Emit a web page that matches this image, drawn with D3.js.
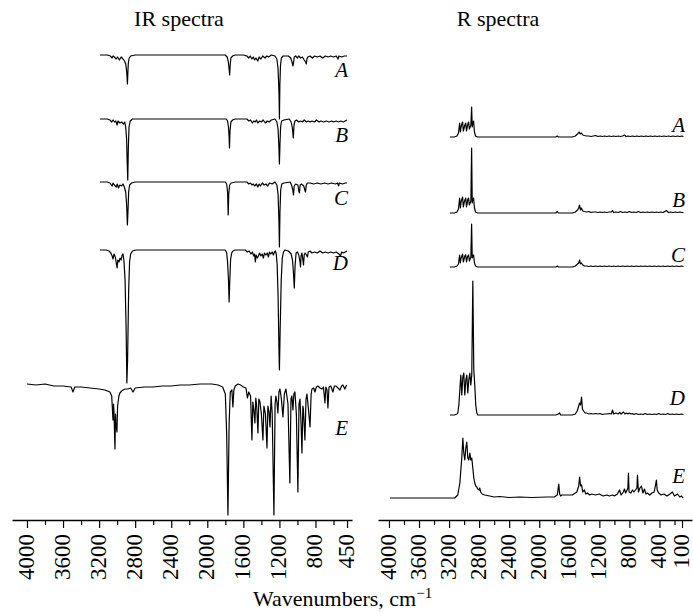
<!DOCTYPE html>
<html>
<head>
<meta charset="utf-8">
<script src="https://cdn.jsdelivr.net/npm/d3@7"></script>
<style>
  body { margin: 0; background: #fff; }
</style>
</head>
<body>
<div id="chart"></div>
<script>
  var w = 693,
      h = 612,
      axisY = 520,
      serif = "'Liberation Serif', 'DejaVu Serif', serif";

  var names = ["A", "B", "C", "D", "E"];

  // tick values, cm-1
  var irMajor = [4000, 3600, 3200, 2800, 2400, 2000, 1600, 1200, 800, 450];
  var irMinor = [3800, 3400, 3000, 2600, 2200, 1800, 1400, 1000, 600];
  var ramMajor = [4000, 3600, 3200, 2800, 2400, 2000, 1600, 1200, 800, 400, 100];
  var ramMinor = [3800, 3400, 3000, 2600, 2200, 1800, 1400, 1000, 600, 200];

  // vertical stacking offset of each trace (A..E)
  var irOffsets = [465, 401, 338, 270, 136];
  var ramOffsets = [383, 307, 253, 105, 22];

  // IR spectra: [wavenumber, change from baseline]
  var irA = [
    [3190,0],[3110,0],[3075,-1],[3056,-3],[3045,-1],[3030,-2],[3011,-4],[2995,-2],[2975,-5],[2955,-2],
    [2935,-4],[2918,-6],[2905,-9],[2897,-14],[2890,-22],[2886,-29],[2881,-18],[2876,-8],[2866,-3],[2850,-1],
    [2800,0],[1800,0],[1780,-2],[1768,-6],[1758,-14],[1752,-20],[1746,-10],[1738,-3],[1720,-1],[1690,0],
    [1600,0],[1560,-1],[1540,-3],[1525,-1],[1505,-4],[1490,-2],[1475,-5],[1460,-3],[1440,-6],[1425,-2],
    [1405,-4],[1385,-1],[1360,-3],[1340,-1],[1320,-2],[1290,0],[1250,-1],[1228,-4],[1215,-14],[1204,-40],
    [1200,-64],[1195,-30],[1188,-10],[1178,-3],[1160,-1],[1100,-1],[1075,-3],[1060,-7],[1050,-11],[1042,-7],
    [1035,-2],[1020,-1],[1000,-3],[985,-1],[965,-3],[945,-2],[925,-5],[910,-7],[902,-9],[895,-4],
    [885,-2],[860,-1],[835,-3],[810,-1],[780,-2],[750,-1],[720,-3],[690,-1],[660,-2],[630,-1],
    [600,-2],[570,-1],[550,-4],[540,-1],[510,-2],[480,-1],[450,-1]
  ];
  var irB = [
    [3190,0],[3110,0],[3080,-1],[3060,-3],[3045,-1],[3030,-3],[3015,-2],[3000,-6],[2990,-2],[2970,-4],
    [2950,-3],[2930,-5],[2915,-3],[2905,-8],[2895,-20],[2888,-45],[2882,-61],[2876,-30],[2868,-8],[2855,-2],
    [2830,0],[1790,0],[1775,-2],[1765,-8],[1758,-18],[1754,-29],[1748,-12],[1738,-3],[1720,-1],[1690,0],
    [1560,0],[1540,-2],[1520,-1],[1500,-4],[1485,-2],[1470,-3],[1455,-1],[1440,-4],[1420,-2],[1400,-3],
    [1380,-1],[1355,-4],[1335,-2],[1315,-3],[1290,-1],[1250,0],[1228,-3],[1215,-10],[1205,-30],[1200,-45],
    [1194,-25],[1187,-8],[1176,-2],[1150,-1],[1090,0],[1070,-3],[1056,-9],[1046,-19],[1038,-6],[1028,-2],
    [1010,-1],[985,-3],[965,-2],[945,-3],[925,-1],[900,-3],[880,-2],[860,-3],[840,-2],[810,-3],
    [790,-1],[760,-3],[740,-2],[710,-3],[680,-2],[650,-3],[620,-2],[600,-3],[570,-2],[545,-3],
    [520,-2],[490,-3],[470,-2],[450,-1]
  ];
  var irC = [
    [3190,0],[3110,0],[3080,-1],[3055,-4],[3045,-1],[3030,-3],[3010,-5],[2998,-2],[2985,-6],[2970,-3],
    [2950,-4],[2935,-2],[2920,-5],[2905,-10],[2895,-22],[2886,-43],[2880,-30],[2872,-10],[2862,-3],[2840,-1],
    [2800,0],[1800,0],[1785,-2],[1775,-10],[1768,-33],[1762,-12],[1752,-3],[1735,-1],[1690,0],[1560,0],
    [1540,-2],[1520,-1],[1505,-3],[1490,-2],[1475,-4],[1455,-2],[1440,-5],[1425,-2],[1410,-4],[1390,-1],
    [1370,-3],[1350,-2],[1330,-4],[1310,-1],[1280,-2],[1250,0],[1228,-3],[1215,-12],[1205,-40],[1200,-65],
    [1194,-30],[1186,-8],[1174,-2],[1150,-1],[1080,0],[1062,-4],[1050,-9],[1044,-13],[1036,-4],[1020,-2],
    [995,-3],[985,-9],[978,-11],[970,-3],[955,-2],[930,-4],[918,-8],[911,-10],[902,-3],[890,-1],
    [860,-1],[820,-2],[780,-1],[740,-2],[700,-1],[660,-2],[620,-1],[580,-2],[555,-1],[544,-4],
    [535,-1],[500,-2],[470,-1],[450,-1]
  ];
  var irD = [
    [3190,0],[3120,0],[3090,-1],[3070,-3],[3055,-6],[3045,-9],[3035,-4],[3020,-7],[3008,-14],[3000,-18],
    [2993,-10],[2980,-12],[2967,-8],[2955,-10],[2944,-5],[2935,-4],[2925,-10],[2912,-30],[2900,-80],[2892,-133],
    [2884,-110],[2872,-40],[2862,-12],[2850,-4],[2830,-1],[2790,0],[1800,0],[1785,-3],[1775,-12],[1765,-30],
    [1758,-52],[1750,-30],[1742,-10],[1730,-3],[1715,-1],[1690,0],[1580,0],[1555,-2],[1535,-1],[1515,-4],
    [1500,-2],[1485,-6],[1475,-4],[1467,-12],[1458,-5],[1445,-8],[1433,-6],[1420,-3],[1405,-6],[1390,-4],
    [1378,-8],[1365,-3],[1350,-5],[1335,-3],[1322,-7],[1310,-2],[1295,-4],[1280,-2],[1267,-5],[1255,-2],
    [1245,-1],[1235,-4],[1225,-15],[1215,-45],[1205,-100],[1200,-120],[1192,-80],[1180,-30],[1168,-8],[1155,-2],
    [1140,0],[1100,-1],[1070,-4],[1055,-10],[1045,-22],[1035,-38],[1026,-15],[1015,-3],[1000,-2],[985,-5],
    [972,-12],[966,-17],[960,-6],[950,-3],[940,-10],[933,-15],[925,-5],[915,-3],[900,-5],[889,-7],
    [880,-2],[860,-1],[840,-3],[810,-2],[780,-3],[750,-1],[720,-3],[690,-2],[660,-3],[630,-2],
    [600,-3],[570,-2],[540,-4],[522,-6],[510,-2],[490,-3],[470,-2],[450,-1]
  ];
  var irE = [
    [4000,0],[3900,-1],[3800,0],[3700,-2],[3600,-2],[3510,-3],[3490,-8],[3470,-3],[3400,-3],[3300,-4],
    [3200,-5],[3135,-6],[3080,-8],[3060,-12],[3046,-36],[3040,-20],[3035,-28],[3024,-65],[3018,-30],[3013,-40],
    [3002,-48],[2995,-22],[2980,-12],[2969,-9],[2950,-7],[2935,-6],[2913,-5],[2880,-5],[2850,-4],[2824,-8],
    [2800,-4],[2700,-3],[2600,-3],[2500,-2],[2400,-2],[2300,-1],[2200,-1],[2081,0],[1950,0],[1880,-1],
    [1830,-3],[1800,-10],[1785,-50],[1771,-131],[1758,-40],[1745,-8],[1727,-6],[1716,-23],[1705,-6],[1690,-2],
    [1660,0],[1630,-1],[1600,-3],[1571,-4],[1555,-14],[1540,-8],[1520,-12],[1505,-56],[1495,-18],[1485,-25],
    [1472,-39],[1462,-14],[1452,-22],[1438,-49],[1428,-15],[1416,-18],[1400,-30],[1383,-56],[1372,-22],[1355,-30],
    [1338,-64],[1328,-22],[1315,-28],[1305,-43],[1292,-12],[1280,-30],[1261,-131],[1248,-20],[1239,-12],[1228,-18],
    [1217,-29],[1205,-8],[1194,-5],[1178,-15],[1161,-33],[1145,-10],[1128,-5],[1105,-20],[1084,-99],[1072,-15],
    [1062,-12],[1050,-26],[1040,-10],[1028,-8],[1012,-30],[995,-108],[983,-20],[972,-15],[960,-40],[950,-69],
    [940,-22],[934,-25],[917,-56],[905,-15],[895,-10],[878,-25],[861,-43],[848,-10],[839,-5],[820,-4],
    [806,-8],[790,-3],[773,-2],[750,-4],[728,-5],[712,-3],[695,-19],[685,-3],[672,-6],[662,-24],
    [650,-3],[630,-2],[607,-8],[590,-2],[573,-2],[550,-4],[529,-6],[510,-2],[496,-1],[474,-5],
    [460,-2],[452,-1]
  ];

  // Raman spectra: [wavenumber, intensity above baseline]
  var ramA = [
    [3190,0],[3130,0],[3095,1],[3075,4],[3060,14],[3050,5],[3040,10],[3030,13],[3020,15],[3010,6],
    [3000,9],[2990,12],[2978,14],[2968,6],[2958,10],[2950,13],[2940,15],[2930,8],[2920,10],[2910,12],
    [2900,30],[2892,10],[2884,14],[2874,16],[2862,5],[2848,1],[2820,0],[1780,0],[1760,1],[1745,0],
    [1560,0],[1520,1],[1490,3],[1470,5],[1455,3],[1440,4],[1420,2],[1400,1.5],[1370,1],[1340,1],
    [1310,0.5],[1280,1],[1250,1.5],[1220,0.5],[1190,1],[1160,0.5],[1130,1],[1100,0.5],[1070,1],[1040,0.5],
    [1010,1],[980,0.5],[950,1],[920,0.5],[890,1],[866,2],[845,0.5],[820,1],[790,0.5],[760,1],
    [730,0.5],[700,1],[670,0.5],[640,1],[610,0.5],[580,1],[550,0.5],[520,1],[490,0.5],[460,1],
    [430,0.5],[400,1],[370,0.5],[340,1],[310,0.5],[280,1],[250,0.5],[220,1],[190,0.5],[160,1],
    [130,0.5],[100,1],[80,0.5]
  ];
  var ramB = [
    [3190,0],[3130,0],[3095,1],[3075,4],[3060,15],[3050,5],[3040,11],[3030,14],[3020,16],[3010,6],
    [3000,10],[2990,13],[2978,15],[2968,6],[2958,10],[2950,14],[2940,15],[2930,8],[2920,10],[2910,12],
    [2900,65],[2892,10],[2884,14],[2874,15],[2862,5],[2848,1],[2820,0],[1780,0],[1760,1.5],[1745,0],
    [1560,0],[1520,1],[1490,3],[1475,5],[1463,8],[1452,3],[1440,5],[1420,2],[1400,1.5],[1370,1],
    [1340,1.5],[1310,0.5],[1280,1],[1250,1],[1220,0.5],[1190,1],[1160,0.5],[1130,1],[1100,0.5],[1070,1],
    [1040,1],[1025,2.5],[1010,0.5],[980,1],[950,0.5],[920,1.5],[890,0.5],[860,1],[830,0.5],[800,1.5],
    [770,0.5],[740,1],[710,0.5],[680,1.5],[650,0.5],[620,1],[590,0.5],[560,1],[530,0.5],[500,1],
    [470,0.5],[440,1],[410,0.5],[380,1],[350,0.5],[308,2.5],[280,0.5],[250,1],[220,0.5],[190,1],
    [160,0.5],[130,1],[100,0.5],[80,0.5]
  ];
  var ramC = [
    [3190,0],[3130,0],[3095,1],[3075,3],[3060,12],[3050,4],[3040,9],[3030,11],[3020,13],[3010,5],
    [3000,8],[2990,11],[2978,12],[2968,5],[2958,9],[2950,11],[2940,12],[2930,6],[2920,8],[2910,10],
    [2900,43],[2892,9],[2884,11],[2874,12],[2862,4],[2848,1],[2820,0],[1780,0],[1760,1],[1745,0],
    [1560,0],[1520,1],[1490,3],[1475,4],[1463,7],[1452,3],[1440,4],[1420,2],[1400,1],[1370,1],
    [1340,0.5],[1310,1],[1280,0.5],[1250,1],[1220,0.5],[1190,1],[1160,0.5],[1130,1],[1100,0.5],[1070,1],
    [1040,0.5],[1010,1],[980,0.5],[950,1],[920,0.5],[890,1],[860,0.5],[830,1],[800,0.5],[770,1],
    [740,0.5],[710,1],[680,0.5],[650,1],[620,0.5],[590,1],[560,0.5],[530,1],[500,0.5],[470,1],
    [440,0.5],[410,1],[380,0.5],[350,1],[320,0.5],[290,1],[260,0.5],[230,1],[200,0.5],[170,1],
    [140,0.5],[110,1],[80,0.5]
  ];
  var ramD = [
    [3190,0],[3130,0],[3095,1],[3084,2],[3070,10],[3057,25],[3044,40],[3031,20],[3017,38],[3004,42],
    [2991,20],[2977,35],[2964,40],[2951,22],[2938,35],[2924,42],[2911,30],[2898,40],[2884,134],[2871,45],
    [2858,30],[2845,10],[2831,2],[2818,0],[1780,0],[1745,1],[1729,2],[1715,0],[1560,0],[1520,1],
    [1495,4],[1475,9],[1463,12],[1450,10],[1437,18],[1425,6],[1410,4],[1390,2],[1370,2],[1340,1],
    [1310,1.5],[1280,1],[1250,1.5],[1220,1],[1190,1.5],[1160,0.5],[1130,1],[1100,1],[1070,1.5],[1040,1],
    [1025,5],[1010,1],[980,2],[950,1],[930,2.5],[910,1],[880,3],[860,1],[840,2],[820,1],
    [800,2],[780,1],[760,1.5],[740,0.5],[710,1.5],[680,0.5],[650,1],[620,0.5],[590,1.5],[560,0.5],
    [530,1],[500,0.5],[470,1],[440,0.5],[410,1.5],[380,0.5],[350,1],[320,0.5],[290,1.5],[260,0.5],
    [230,1],[200,0.5],[170,1],[140,0.5],[110,1],[80,0.5]
  ];
  var ramE = [
    [3987,0],[3700,0],[3400,0],[3124,0],[3084,3],[3057,15],[3031,40],[3017,60],[3004,45],[2991,38],
    [2977,50],[2964,56],[2951,40],[2938,38],[2924,45],[2911,38],[2898,40],[2884,30],[2871,20],[2858,15],
    [2845,12],[2831,11],[2818,9],[2800,8],[2792,10],[2780,6],[2760,4],[2725,3],[2659,2],[2600,1],
    [2526,1.5],[2400,0.5],[2260,1],[2100,0.5],[1900,1],[1800,1],[1760,3],[1740,14],[1729,4],[1715,2],
    [1700,3],[1560,3],[1500,6],[1475,12],[1463,21],[1450,12],[1437,13],[1420,6],[1400,8],[1380,4],
    [1357,5],[1331,3],[1300,4],[1251,3],[1200,4],[1150,2],[1100,3],[1065,2],[1025,3],[1000,2],
    [960,4],[932,8],[910,3],[880,6],[866,9],[850,5],[820,10],[813,25],[805,6],[780,5],
    [760,8],[740,6],[700,10],[693,23],[680,6],[660,10],[640,12],[620,5],[600,9],[580,4],
    [560,5],[530,3],[500,5],[470,6],[450,14],[441,18],[430,8],[410,5],[380,3],[340,4],
    [300,2],[260,4],[228,6],[200,2],[160,4],[130,1],[109,2],[85,0]
  ];

  var irSeries = [irA, irB, irC, irD, irE];
  var ramSeries = [ramA, ramB, ramC, ramD, ramE];

  // letter baseline, relative to the trace baseline
  var irLabelDy = [22, 23, 23, 20, 51];
  var ramLabelDy = [-5, -6, -5, -10, -15];

  var svg = d3.select("#chart").append("svg")
      .attr("width", w)
      .attr("height", h)
      .style("font-family", serif);

  var irX = d3.scaleLinear().domain([4166, 395]).range([12, 352]);
  var ramX = d3.scaleLinear().domain([4146, -33]).range([378, 692]);
  var y = d3.scaleLinear().domain([0, 500]).range([axisY, 20]);

  function drawPanel(x, series, offsets, labelDy, major, minor, title, titleX, labelX) {
    var g = svg.append("g");

    series.forEach(function(data, i) {
      var line = d3.line()
          .x(function(d) { return x(d[0]); })
          .y(function(d) { return y(offsets[i] + d[1]); });
      g.append("path")
          .datum(data)
          .attr("d", line)
          .attr("fill", "none")
          .attr("stroke", "#000")
          .attr("stroke-width", 1.2)
          .attr("stroke-linejoin", "round");
      g.append("text")
          .attr("x", labelX)
          .attr("y", y(offsets[i]) + labelDy[i])
          .attr("text-anchor", "end")
          .style("font-family", serif)
          .style("font-style", "italic")
          .style("font-size", "21px")
          .text(names[i]);
    });

    var minorAxis = g.append("g")
        .attr("transform", "translate(0," + axisY + ")")
        .call(d3.axisBottom(x).tickValues(minor).tickSize(5).tickSizeOuter(0).tickFormat(""));
    minorAxis.select(".domain").remove();

    var majorAxis = g.append("g")
        .attr("transform", "translate(0," + axisY + ")")
        .call(d3.axisBottom(x).tickValues(major).tickSize(8).tickSizeOuter(0).tickFormat(d3.format("d")));

    g.selectAll(".domain").attr("stroke", "#000").attr("stroke-width", 1.4);
    g.selectAll(".tick line").attr("stroke", "#000").attr("stroke-width", 1.2);

    majorAxis.selectAll("text")
        .attr("fill", "#000")
        .style("font-family", serif)
        .style("font-size", "23px")
        .attr("transform", "rotate(-90)")
        .attr("text-anchor", "end")
        .attr("x", -14)
        .attr("y", 0)
        .attr("dy", "0.27em");

    svg.append("text")
        .attr("x", titleX)
        .attr("y", 26)
        .attr("text-anchor", "middle")
        .style("font-family", serif)
        .style("font-size", "22px")
        .text(title);
  }

  drawPanel(irX, irSeries, irOffsets, irLabelDy, irMajor, irMinor, "IR spectra", 179, 348);
  drawPanel(ramX, ramSeries, ramOffsets, ramLabelDy, ramMajor, ramMinor, "R spectra", 498, 685);

  var xlab = svg.append("text")
      .attr("x", 253)
      .attr("y", 606)
      .style("font-family", serif)
      .style("font-size", "22px");
  xlab.append("tspan").text("Wavenumbers, cm");
  xlab.append("tspan")
      .attr("dy", -8)
      .style("font-size", "15px")
      .text("\u22121");
</script>
</body>
</html>
